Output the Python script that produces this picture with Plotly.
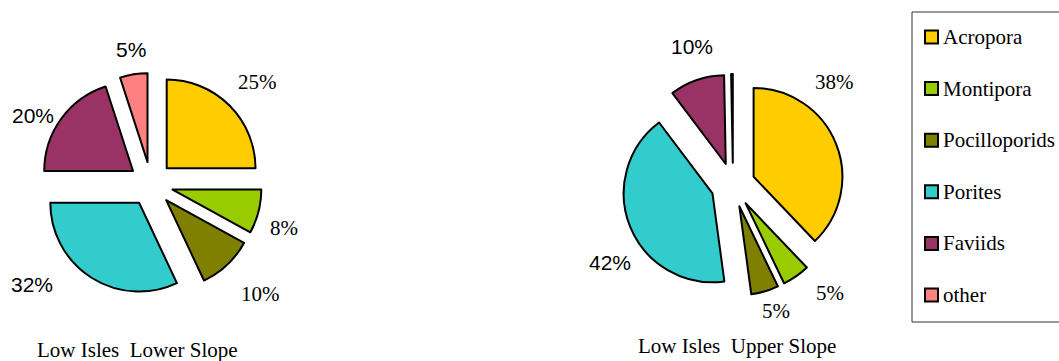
import plotly.graph_objects as go

# Coral cover composition at Low Isles (percent of live coral cover)
genera = ["Acropora", "Montipora", "Pocilloporids", "Porites", "Faviids", "other"]
lower_slope = [25, 8, 10, 32, 20, 5]
upper_slope = [38, 5, 5, 42, 10, 0.3]
titles = ["Low Isles\u00a0 Lower Slope", "Low Isles\u00a0 Upper Slope"]

SERIF = "Liberation Serif"
SANS = "Liberation Sans"

colors = ["#FFCC00", "#99CC00", "#808000", "#33CCCC", "#993366", "#FF8080"]
label_fonts = [SERIF, SERIF, SERIF, SANS, SANS, SANS]

W, H = 1059, 361


def px(x):
    return x / W


def py(y):
    return 1 - y / H


fig = go.Figure()

pies = [
    dict(values=lower_slope, cx=151, cy=184,
         label_pos=[(257, 82), (284, 228), (260, 294), (32, 284), (33, 115), (131, 49)],
         title_pos=(137, 350)),
    dict(values=upper_slope, cx=733, cy=185,
         label_pos=[(834, 82), (830, 293), (776, 311), (610, 262), (692, 46), None],
         title_pos=(737, 346)),
]

half = 111  # outer extent of the exploded pie (radius * (1 + pull))
annotations = []
for pie, title in zip(pies, titles):
    cx, cy = pie["cx"], pie["cy"]
    fig.add_trace(go.Pie(
        labels=genera,
        values=pie["values"],
        sort=False,
        direction="clockwise",
        rotation=0,
        pull=[0.25] * len(genera),
        marker=dict(colors=colors, line=dict(color="black", width=2)),
        textinfo="none",
        hoverinfo="label+value",
        showlegend=False,
        domain=dict(x=[px(cx - half), px(cx + half)],
                    y=[py(cy + half), py(cy - half)]),
    ))
    for v, pos, fam in zip(pie["values"], pie["label_pos"], label_fonts):
        if pos is None or v < 1:
            continue
        annotations.append(dict(
            x=px(pos[0]), y=py(pos[1]), xref="paper", yref="paper",
            text=f"{v:g}%", showarrow=False, xanchor="center", yanchor="middle",
            font=dict(family=fam, size=21, color="black"),
        ))
    annotations.append(dict(
        x=px(pie["title_pos"][0]), y=py(pie["title_pos"][1]),
        xref="paper", yref="paper", text=title, showarrow=False,
        xanchor="center", yanchor="middle",
        font=dict(family=SERIF, size=21, color="black"),
    ))

# Legend drawn as a framed list of swatches
shapes = [dict(type="rect", xref="paper", yref="paper",
               x0=px(912), x1=px(1065), y0=py(322), y1=py(12),
               line=dict(color="#333333", width=1), fillcolor="rgba(0,0,0,0)")]
legend_top, legend_step = 37, 51.6
for i, (name, col) in enumerate(zip(genera, colors)):
    yc = legend_top + i * legend_step
    shapes.append(dict(type="rect", xref="paper", yref="paper",
                       x0=px(925), x1=px(938), y0=py(yc + 6.5), y1=py(yc - 6.5),
                       line=dict(color="black", width=2), fillcolor=col))
    annotations.append(dict(
        x=px(941), y=py(yc), xref="paper", yref="paper", text=name,
        showarrow=False, xanchor="left", yanchor="middle",
        font=dict(family=SERIF, size=21, color="black"),
    ))

fig.update_layout(
    width=W, height=H,
    margin=dict(l=0, r=0, t=0, b=0),
    paper_bgcolor="white", plot_bgcolor="white",
    annotations=annotations, shapes=shapes,
)

fig.write_html("out.html")
